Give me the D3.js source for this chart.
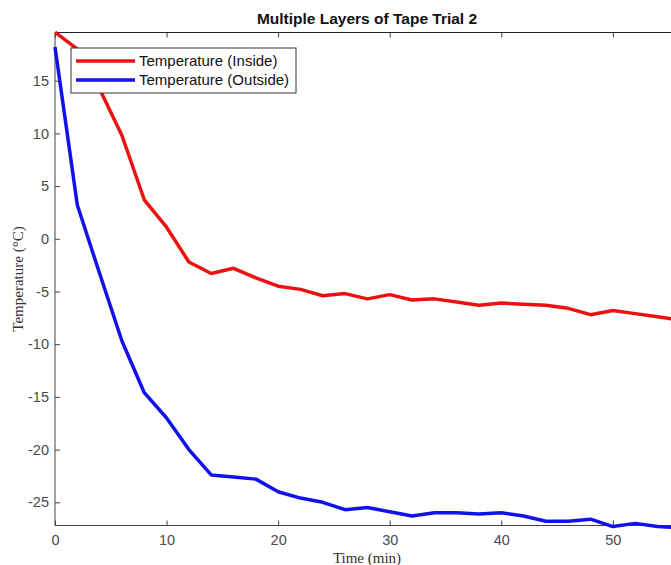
<!DOCTYPE html>
<html>
<head>
<meta charset="utf-8">
<script src="https://cdn.jsdelivr.net/npm/d3@7"></script>
<style>
  body { margin: 0; background: #fff; }
  svg { display: block; }
</style>
</head>
<body>
<svg></svg>
<script>
var time = [0, 2, 4, 6, 8, 10, 12, 14, 16, 18, 20, 22, 24, 26, 28, 30, 32, 34, 36, 38, 40, 42, 44, 46, 48, 50, 52, 54, 56];
var inside = [19.6, 18.0, 14.2, 9.8, 3.7, 1.1, -2.2, -3.3, -2.8, -3.7, -4.5, -4.8, -5.4, -5.2, -5.7, -5.3, -5.8, -5.7, -6.0, -6.3, -6.1, -6.2, -6.3, -6.6, -7.2, -6.8, -7.1, -7.4, -7.7];
var outside = [18.2, 3.2, -3.3, -9.7, -14.6, -17.0, -20.0, -22.4, -22.6, -22.8, -24.0, -24.6, -25.0, -25.7, -25.5, -25.9, -26.3, -26.0, -26.0, -26.1, -26.0, -26.3, -26.8, -26.8, -26.6, -27.3, -27.0, -27.3, -27.4];
var xTicks = [0, 10, 20, 30, 40, 50];
var yTicks = [-25, -20, -15, -10, -5, 0, 5, 10, 15];
var seriesNames = ['Temperature (Inside)', 'Temperature (Outside)'];
var seriesColors = ['#ee1111', '#1111ee'];

var W = 671, H = 565;
var plotLeft = 55, plotRight = 672, plotTop = 32.5, plotBottom = 525.5;

var svg = d3.select('svg').attr('width', W).attr('height', H);

var x = d3.scaleLinear().domain([0, 55.3]).range([plotLeft, plotRight]);
var y = d3.scaleLinear().domain([-27.2, 19.57]).range([plotBottom, plotTop]);

// inward ticks, MATLAB style, plain hyphen for negatives
var axisColor = '#444';
var plain = function(d){ return String(d); };
function styleAxis(g) {
  g.select('.domain').remove();
  g.selectAll('line').attr('stroke', axisColor);
  g.selectAll('text').attr('fill', '#4a4a4a').attr('font-family', 'Liberation Sans, Arial, sans-serif').attr('font-size', '14.5px');
}

svg.append('g')
  .attr('transform', 'translate(0,' + plotBottom + ')')
  .call(d3.axisBottom(x).tickValues(xTicks).tickSizeInner(-5).tickSizeOuter(0).tickPadding(9).tickFormat(plain))
  .call(styleAxis);

svg.append('g')
  .attr('transform', 'translate(0,' + plotTop + ')')
  .call(d3.axisTop(x).tickValues(xTicks).tickSizeInner(-5).tickSizeOuter(0).tickFormat(''))
  .call(styleAxis);

svg.append('g')
  .attr('transform', 'translate(' + plotLeft + ',0)')
  .call(d3.axisLeft(y).tickValues(yTicks).tickSizeInner(-5).tickSizeOuter(0).tickPadding(6).tickFormat(plain))
  .call(styleAxis);

// axis box lines
svg.append('line').attr('x1', plotLeft).attr('x2', plotLeft).attr('y1', plotTop).attr('y2', plotBottom).attr('stroke', axisColor);
svg.append('line').attr('x1', plotLeft).attr('x2', plotRight).attr('y1', plotBottom).attr('y2', plotBottom).attr('stroke', axisColor);
svg.append('line').attr('x1', plotLeft).attr('x2', plotRight).attr('y1', plotTop).attr('y2', plotTop).attr('stroke', '#222');

// data lines
var line = d3.line().x(function(d){ return x(d[0]); }).y(function(d){ return y(d[1]); });
[inside, outside].forEach(function(vals, i){
  svg.append('path')
    .datum(time.map(function(t, j){ return [t, vals[j]]; }))
    .attr('fill', 'none')
    .attr('stroke', seriesColors[i])
    .attr('stroke-width', 3.5)
    .attr('stroke-linejoin', 'round')
    .attr('d', line);
});

// title and labels
svg.append('text')
  .attr('x', 367).attr('y', 24)
  .attr('text-anchor', 'middle')
  .attr('font-family', 'Liberation Sans, Arial, sans-serif')
  .attr('font-weight', 'bold')
  .attr('font-size', '15.5px')
  .attr('fill', '#111')
  .text('Multiple Layers of Tape Trial 2');

svg.append('text')
  .attr('x', 367).attr('y', 563)
  .attr('text-anchor', 'middle')
  .attr('font-family', 'Liberation Serif, Times New Roman, serif')
  .attr('font-size', '15px')
  .attr('fill', '#333')
  .text('Time (min)');

svg.append('text')
  .attr('transform', 'translate(23,' + ((plotTop + plotBottom) / 2) + ') rotate(-90)')
  .attr('text-anchor', 'middle')
  .attr('font-family', 'Liberation Serif, Times New Roman, serif')
  .attr('font-size', '15px')
  .attr('fill', '#333')
  .text('Temperature (°C)');

// legend
var legend = svg.append('g').attr('transform', 'translate(71,48)');
legend.append('rect')
  .attr('width', 225).attr('height', 45)
  .attr('fill', '#fff').attr('stroke', '#333').attr('stroke-width', 1);
seriesNames.forEach(function(name, i){
  var ly = 13 + i * 19;
  legend.append('line')
    .attr('x1', 5).attr('x2', 64).attr('y1', ly).attr('y2', ly)
    .attr('stroke', seriesColors[i]).attr('stroke-width', 3.5);
  legend.append('text')
    .attr('x', 68).attr('y', ly + 5)
    .attr('font-family', 'Liberation Sans, Arial, sans-serif')
    .attr('font-size', '15px')
    .attr('fill', '#111')
    .text(name);
});
</script>
</body>
</html>
